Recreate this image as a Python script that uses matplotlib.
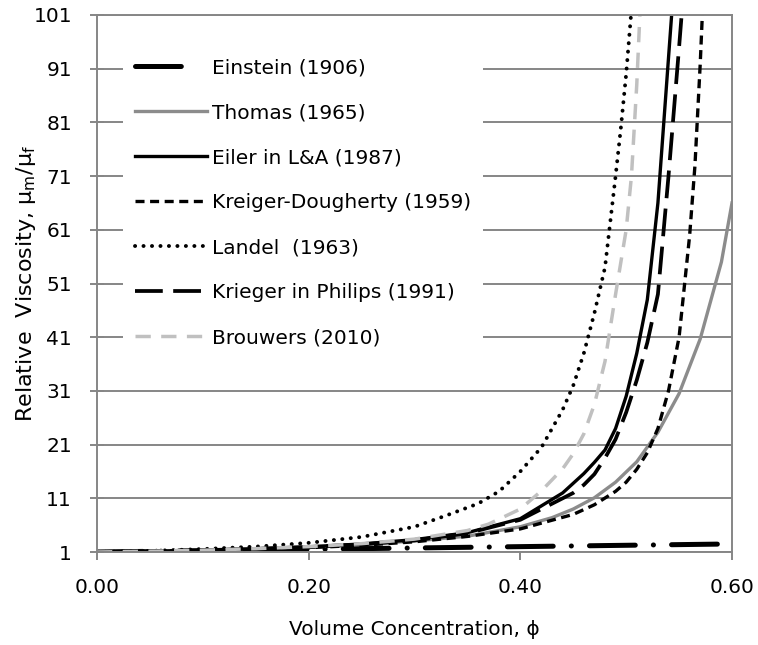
import numpy as np
import matplotlib
matplotlib.use('Agg')
import matplotlib.pyplot as plt

plt.rcParams['font.family'] = ['DejaVu Sans']
plt.rcParams['mathtext.fontset'] = 'dejavusans'
plt.rcParams['lines.scale_dashes'] = False

# relative viscosity vs. volume fraction, read per model
einstein_x = [0.0, 0.1, 0.2, 0.3, 0.4, 0.5, 0.6]
einstein_y = [1.0, 1.25, 1.5, 1.75, 2.0, 2.25, 2.5]

thomas_x = [0.0, 0.05, 0.1, 0.15, 0.2, 0.25, 0.3, 0.35, 0.4, 0.43, 0.45, 0.47,
            0.49, 0.51, 0.53, 0.55, 0.57, 0.59, 0.6]
thomas_y = [1.0, 1.15, 1.36, 1.63, 1.98, 2.44, 3.05, 3.95, 5.7, 7.4, 9.0, 11.1,
            14.0, 17.8, 23.3, 30.5, 40.7, 55.0, 66.0]

eilers_x = [0.0, 0.05, 0.1, 0.15, 0.2, 0.25, 0.3, 0.35, 0.4, 0.44, 0.45, 0.46,
            0.47, 0.48, 0.49, 0.5, 0.51, 0.52, 0.53, 0.54, 0.55]
eilers_y = [1.0, 1.14, 1.33, 1.6, 1.95, 2.5, 3.3, 4.6, 7.2, 12.0, 13.8, 15.6,
            17.7, 20.0, 24.0, 30.0, 38.0, 48.0, 66.0, 93.0, 120.0]

kd_x = [0.0, 0.05, 0.1, 0.15, 0.2, 0.25, 0.3, 0.35, 0.4, 0.45, 0.47, 0.49, 0.5,
        0.51, 0.52, 0.53, 0.54, 0.55, 0.56, 0.565, 0.57, 0.575]
kd_y = [1.0, 1.13, 1.29, 1.5, 1.8, 2.25, 2.9, 3.9, 5.3, 8.0, 9.8, 12.3, 14.0,
        16.4, 19.5, 24.0, 31.0, 41.0, 60.0, 73.0, 92.0, 115.0]

landel_x = [0.0, 0.05, 0.1, 0.15, 0.2, 0.25, 0.3, 0.33, 0.36, 0.38, 0.4, 0.42,
            0.44, 0.45, 0.46, 0.47, 0.48, 0.49, 0.495, 0.5, 0.505]
landel_y = [1.0, 1.2, 1.55, 2.0, 2.7, 3.8, 5.7, 7.8, 10.0, 12.3, 16.0, 20.5,
            27.5, 32.0, 38.0, 45.5, 54.0, 71.0, 80.0, 90.0, 102.0]

philips_x = [0.0, 0.05, 0.1, 0.15, 0.2, 0.25, 0.3, 0.35, 0.4, 0.45, 0.46, 0.47,
             0.48, 0.49, 0.5, 0.51, 0.52, 0.53, 0.54, 0.55, 0.56]
philips_y = [1.0, 1.13, 1.3, 1.55, 1.9, 2.4, 3.15, 4.5, 7.0, 12.0, 13.5, 15.5,
             18.5, 22.0, 27.0, 33.0, 40.0, 49.0, 71.0, 95.0, 120.0]

brouwers_x = [0.0, 0.05, 0.1, 0.15, 0.2, 0.25, 0.3, 0.35, 0.37, 0.4, 0.42, 0.44,
              0.45, 0.46, 0.47, 0.48, 0.49, 0.5, 0.505, 0.51, 0.515]
brouwers_y = [1.0, 1.14, 1.33, 1.62, 2.0, 2.55, 3.4, 5.0, 6.2, 9.0, 12.4, 16.5,
              19.3, 23.0, 28.5, 36.5, 49.0, 61.0, 71.0, 88.0, 110.0]

x_ticks = [0.0, 0.2, 0.4, 0.6]
y_ticks = [1, 11, 21, 31, 41, 51, 61, 71, 81, 91, 101]

grid_col = '#868686'
fs = 14.5

fig = plt.figure(figsize=(7.58, 6.45), dpi=100)
ax = fig.add_axes([97 / 758, 93 / 645, 635 / 758, 537 / 645])

ax.plot(einstein_x, einstein_y, color='black', lw=3.6,
        dashes=(33, 13, 0.1, 13), dash_capstyle='round', label='Einstein (1906)')
ax.plot(thomas_x, thomas_y, color='#8c8c8c', lw=2.4, label='Thomas (1965)')
ax.plot(eilers_x, eilers_y, color='black', lw=2.4, label='Eiler in L&A (1987)')
ax.plot(kd_x, kd_y, color='black', lw=2.4, dashes=(6.5, 4),
        label='Kreiger-Dougherty (1959)')
ax.plot(landel_x, landel_y, color='black', lw=2.8, dashes=(0.1, 6),
        dash_capstyle='round', label='Landel  (1963)')
ax.plot(philips_x, philips_y, color='black', lw=2.7, dashes=(20, 7.5),
        label='Krieger in Philips (1991)')
ax.plot(brouwers_x, brouwers_y, color='#c0c0c0', lw=2.5, dashes=(11, 7.5),
        label='Brouwers (2010)')

ax.set_xlim(0, 0.6)
ax.set_ylim(1, 101)
ax.set_xticks(x_ticks)
ax.set_xticklabels(['%.2f' % v for v in x_ticks])
ax.set_yticks(y_ticks)
ax.yaxis.grid(True, color=grid_col, lw=1.4)
ax.set_axisbelow(True)
for sp in ax.spines.values():
    sp.set_color(grid_col)
    sp.set_linewidth(1.4)
ax.tick_params(axis='x', direction='out', length=6, width=1.4, color=grid_col,
               pad=13, labelsize=fs)
ax.tick_params(axis='y', direction='inout', length=10, width=1.4, color=grid_col,
               pad=13, labelsize=fs)

ax.set_xlabel('Volume Concentration, ϕ', fontsize=fs, labelpad=16)
ax.set_ylabel(r'Relative  Viscosity, μ$_{\mathrm{m}}$/μ$_{\mathrm{f}}$',
              fontsize=16, labelpad=-3)

leg = ax.legend(loc='upper left', bbox_to_anchor=(0.041, 0.942), fontsize=fs,
                frameon=True, fancybox=False, handlelength=3.58,
                handletextpad=0.25, labelspacing=1.29, borderpad=0.6,
                borderaxespad=0.0)
leg.get_frame().set_facecolor('white')
leg.get_frame().set_edgecolor('none')
leg.get_frame().set_alpha(1.0)
# legend sample for Einstein shows just the long dash
leg.get_lines()[0].set_dashes((33, 60))

fig.savefig('out.png', dpi=100)
